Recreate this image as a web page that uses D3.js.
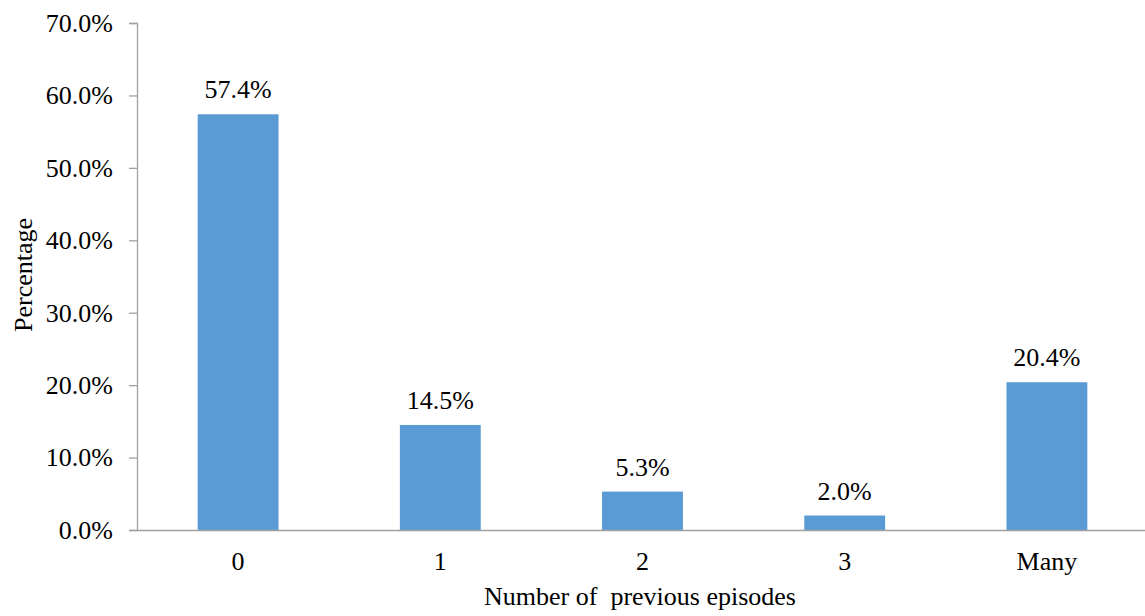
<!DOCTYPE html>
<html>
<head>
<meta charset="utf-8">
<script src="https://cdn.jsdelivr.net/npm/d3@7"></script>
<style>
  body { margin: 0; background: #fff; }
  svg { display: block; }
  text { font-family: "Liberation Serif", "Times New Roman", serif; fill: #000; }
</style>
</head>
<body>
<svg id="chart" width="1145" height="616"></svg>
<script>
const categories = ["0", "1", "2", "3", "Many"];
const values = [57.4, 14.5, 5.3, 2.0, 20.4];
const yTicks = [0, 10, 20, 30, 40, 50, 60, 70];

const svg = d3.select("#chart");
const plotLeft = 137, plotRight = 1148, plotTop = 23, plotBottom = 530;
const fs = 26;

const x = d3.scaleBand().domain(categories).range([plotLeft, plotRight]).paddingInner(0.6).paddingOuter(0.3);
const y = d3.scaleLinear().domain([0, 70]).range([plotBottom, plotTop]);

// y axis
const yAxis = svg.append("g").attr("transform", `translate(${plotLeft},0)`)
  .call(d3.axisLeft(y).tickValues(yTicks).tickSize(8).tickPadding(16).tickFormat(d => d.toFixed(1) + "%"));
yAxis.select(".domain").attr("stroke", "#a0a0a0").attr("stroke-width", 1.3);
yAxis.selectAll(".tick line").attr("stroke", "#a0a0a0").attr("stroke-width", 1.3);
yAxis.selectAll(".tick text").attr("font-size", fs).attr("font-family", "Liberation Serif").attr("fill", "#000");

// bars
svg.append("g").selectAll("rect").data(values).join("rect")
  .attr("x", (d, i) => x(categories[i]))
  .attr("width", x.bandwidth())
  .attr("y", d => y(d))
  .attr("height", d => y(0) - y(d))
  .attr("fill", "#5b9bd5");

// data labels
svg.append("g").selectAll("text").data(values).join("text")
  .attr("x", (d, i) => x(categories[i]) + x.bandwidth() / 2)
  .attr("y", d => y(d) - 16)
  .attr("text-anchor", "middle")
  .attr("font-size", fs)
  .text(d => d.toFixed(1) + "%");

// x axis
const xAxis = svg.append("g").attr("transform", `translate(0,${plotBottom})`)
  .call(d3.axisBottom(x).tickSize(0).tickPadding(22));
xAxis.select(".domain").attr("stroke", "#a0a0a0").attr("stroke-width", 1.3);
xAxis.selectAll(".tick text").attr("font-size", fs).attr("font-family", "Liberation Serif").attr("fill", "#000");

// axis titles
svg.append("text")
  .attr("x", 640).attr("y", 605)
  .attr("text-anchor", "middle")
  .attr("font-size", fs)
  .attr("xml:space", "preserve")
  .style("white-space", "pre")
  .text("Number of  previous episodes");

svg.append("text")
  .attr("transform", "translate(32,275) rotate(-90)")
  .attr("text-anchor", "middle")
  .attr("font-size", fs)
  .text("Percentage");
</script>
</body>
</html>
